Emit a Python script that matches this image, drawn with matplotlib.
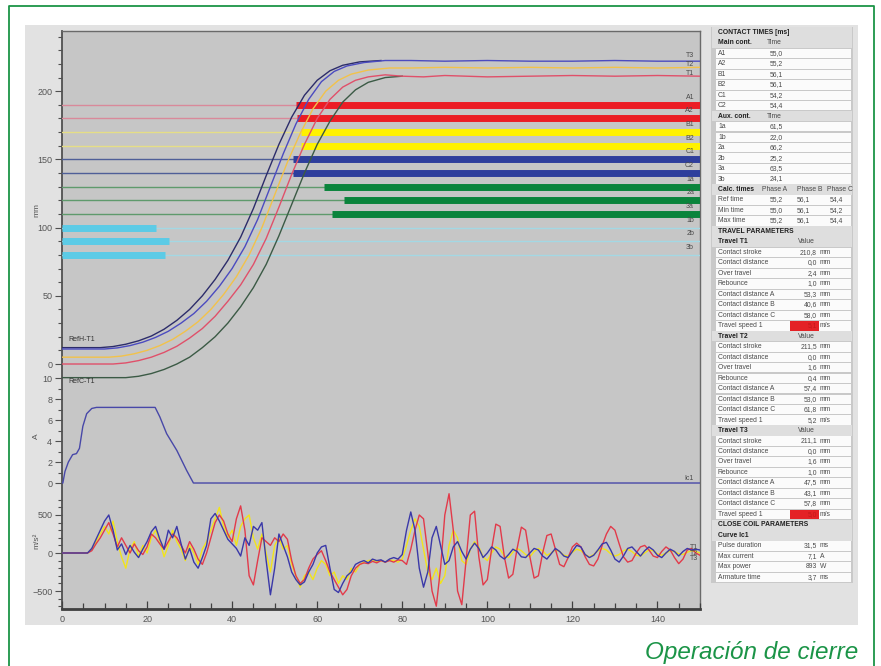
import matplotlib
matplotlib.use('Agg')
import matplotlib.pyplot as plt
from matplotlib.patches import Rectangle
from matplotlib.ticker import FixedLocator

plt.rcParams['font.family'] = ['Liberation Sans', 'DejaVu Sans']

W, H = 881, 666

# ---- contact position lines (mm) ----
contact_names = ['A1', 'A2', 'B1', 'B2', 'C1', 'C2', '1a', '2a', '3a', '1b', '2b', '3b']
contact_levels = [190, 180, 170, 160, 150, 140, 130, 120, 110, 100, 90, 80]
contact_times = [55.0, 55.2, 56.1, 56.1, 54.2, 54.4, 61.5, 66.2, 63.5, 22.0, 25.2, 24.1]
contact_opens = [False] * 9 + [True] * 3

# ---- travel curves (ms, mm) ----
t1_t = [0, 12, 15, 18, 21, 24, 27, 30, 33, 36, 39, 42, 45, 48, 51, 54, 57, 60, 63, 66, 69, 72, 76, 80, 85, 90, 95, 100, 110, 120, 130, 140, 150]
t1_mm = [0, 0, 0.8, 2.5, 5, 8.5, 13, 19, 26, 35, 46, 58, 73, 92, 115, 139, 161, 180, 194, 203, 208, 210.5, 212, 211, 210.5, 211.5, 211, 210.5, 211, 211.5, 211, 211.5, 211]
t2_t = [0, 11, 14, 17, 20, 23, 26, 29, 32, 35, 38, 41, 44, 47, 50, 53, 56, 59, 62, 65, 68, 72, 77, 82, 90, 100, 110, 120, 130, 140, 150]
t2_mm = [5, 5, 5.8, 7.5, 10, 13.5, 18, 24, 31, 40, 51, 64, 80, 100, 124, 148, 169, 187, 200, 208, 212.5, 215.5, 217, 217, 217.5, 217, 217.5, 217, 217.5, 217, 217.5]
t3_t = [0, 10, 13, 16, 19, 22, 25, 28, 31, 34, 37, 40, 43, 46, 49, 52, 55, 58, 61, 64, 67, 71, 76, 82, 90, 100, 110, 120, 130, 140, 150]
t3_mm = [11, 11, 11.8, 13.5, 16, 19.5, 24, 30, 37, 46, 57, 70, 86, 106, 130, 154, 176, 194, 207, 214.5, 218.5, 221, 222.5, 222.5, 222, 222.5, 222, 222, 222.5, 222, 222]
refh_t = [0, 9, 12, 15, 18, 21, 24, 27, 30, 33, 36, 39, 42, 45, 48, 51, 54, 57, 60, 63, 66, 70, 75]
refh_mm = [12, 12, 12.8, 14.5, 17, 20.5, 25.5, 32, 40, 50, 62, 76, 93, 114, 138, 161, 181, 197, 208, 215, 219, 221.5, 222.5]
refc_t = [0, 15, 18, 21, 24, 27, 30, 33, 36, 39, 42, 45, 48, 51, 54, 57, 60, 63, 66, 69, 72, 76, 80]
refc_mm = [-10, -10, -9, -7, -4, 0, 5, 12, 20, 30, 42, 56, 73, 94, 117, 140, 161, 178, 192, 201, 206.5, 210, 211]

# ---- coil current (ms, A) ----
cur_t = [0, 0.2, 0.7, 1.5, 2.5, 3.4, 4.1, 4.9, 5.8, 7.0, 8.1, 21.9, 23.0, 24.6, 27.0, 29.3, 30.9, 150]
cur_a = [0, 0.0, 1.1, 2.0, 2.7, 2.8, 3.3, 5.4, 6.6, 7.1, 7.2, 7.2, 6.3, 4.7, 3.1, 1.2, 0.0, 0.0]

# ---- acceleration (m/s2), one sample per ms ----
acc_t = list(range(151))
acc_blue = [0, 0, 0, 0, 0, 0, 0, 60, 180, 300,
            420, 500, 300, 40, 120, -20, 100, 10, -60, 50,
            150, 280, 350, 180, 50, 300, 200, 350, 120, -80,
            60, -120, -200, -60, 100, 450, 520, 420, 300, 180,
            120, 60, -40, 200, 100, 350, 300, 400, -100, -550,
            -200, 250, 100, -50, -250, -350, -420, -380, -250, -150,
            0, 80, 100, -200, -480, -520, -400, -300, -250, -150,
            -120, -100, -130, -80, -100, -90, -120, -80, -60, -80,
            -20, 300, 540, 300, -200, -450, -250, 200, 350, 100,
            -150, -100, 80, 150, 20, -80, 50, 130, 60, -60,
            0, 80, 40, -40, -80, -20, 50, 20, -50, -60,
            0, 60, 40, -40, -80, -10, 60, 20, -40, -60,
            20, 100, 80, -20, -60, -30, 40, 120, 140, 40,
            -80, -120, -40, 60, 80, 20, -40, 30, 80, 40,
            -30, -60, 0, 50, 20, -40, 20, 60, 40, 50,
            40]
acc_red = [0, 0, 0, 0, 0, 0, 0, 30, 120, 200,
           300, 400, 250, 80, 200, 100, 0, 120, 30, -20,
           80, 250, 200, 120, 50, 150, 250, 200, 100, 0,
           150, 50, -80, -150, 0, 200, 400, 500, 420, 250,
           150, 450, 620, 300, -300, -420, -100, 200, 150, 100,
           200, 150, 250, 180, -100, -300, -400, -350, -200, -80,
           -20, 30, -100, -250, -350, -450, -550, -480, -300, -200,
           -150, -130, -140, -110, -130, -100, -120, -100, -120, -90,
           -100, -150, 50, 300, 500, 450, 0, -500, -700, -200,
           500, 780, 300, -500, -680, -100, 500, 550, -50, -420,
           -350, 50, 380, 350, -50, -330, -280, 60, 340, 300,
           -50, -330, -300, 0, 230, 250, 50, -150, -180, -60,
           80, 130, 80, -50, -150, -170, -80, 100, 250, 350,
           300, 120, -50, -120, -100, 0, 80, 100, 40, -40,
           -60, 20, 80, 40, -60, -140, -80, 40, 60, 0,
           -30]
acc_yellow = [0, 0, 0, 0, 0, 0, 0, 50, 150, 250,
              350, 250, 420, 150, -50, -200, 50, 150, -50, 100,
              0, 200, 300, 150, -50, 100, 300, 150, 50, -100,
              100, 0, -150, 50, 150, 300, 450, 600, 350, 200,
              300, 100, 350, 450, 500, 200, 50, 250, 0, -250,
              100, 200, 50, 100, -150, -300, -450, -300, -250, -350,
              -200, -100, -150, -300, -250, -400, -300, -350, -200, -250,
              -150, -120, -100, -90, -110, -100, -120, -90, -100, -120,
              -80, 100, 300, 450, 350, 50, -250, -350, -200, -400,
              -300, 100, 300, 200, -100, -150, 50, 150, 80, -50,
              -100, 0, 80, 50, -40, -60, 10, 60, 30, -20,
              -50, 20, 60, 30, -30, 0, 40, 20, -30, -40,
              10, 50, 30, -20, -50, -20, 30, 60, 40, -10,
              -40, -20, 30, 50, 20, -30, -40, 0, 40, 30,
              -10, -30, 0, 30, 20, -10, -20, 10, 30, 20,
              0]

# ---- table values ----
main_names = ['A1', 'A2', 'B1', 'B2', 'C1', 'C2']
main_times = ['55,0', '55,2', '56,1', '56,1', '54,2', '54,4']
aux_names = ['1a', '1b', '2a', '2b', '3a', '3b']
aux_times = ['61,5', '22,0', '66,2', '25,2', '63,5', '24,1']
calc_names = ['Ref time', 'Min time', 'Max time']
calc_a = ['55,2', '55,0', '55,2']
calc_b = ['56,1', '56,1', '56,1']
calc_c = ['54,4', '54,2', '54,4']
travel_names = ['Contact stroke', 'Contact distance', 'Over travel', 'Rebounce',
                'Contact distance A', 'Contact distance B', 'Contact distance C', 'Travel speed 1']
travel_units = ['mm', 'mm', 'mm', 'mm', 'mm', 'mm', 'mm', 'm/s']
travel_t1 = ['210,8', '0,0', '2,4', '1,0', '53,3', '40,6', '58,0', '5,1']
travel_t2 = ['211,5', '0,0', '1,6', '0,4', '57,4', '53,0', '61,8', '5,2']
travel_t3 = ['211,1', '0,0', '1,6', '1,0', '47,5', '43,1', '57,8', '5,0']
travel_alarm = [True, False, True]
coil_names = ['Pulse duration', 'Max current', 'Max power', 'Armature time']
coil_values = ['31,5', '7,1', '893', '3,7']
coil_units = ['ms', 'A', 'W', 'ms']


def frac(x0, y0, x1, y1):
    return [x0 / W, 1 - y1 / H, (x1 - x0) / W, (y1 - y0) / H]


fig = plt.figure(figsize=(W / 100, H / 100), dpi=100)
fig.patch.set_facecolor('white')

# base layer in pixel coordinates
base = fig.add_axes([0, 0, 1, 1])
base.set_xlim(0, W)
base.set_ylim(H, 0)
base.axis('off')

green = '#1b9447'
base.plot([9, 9, 874, 874], [666, 6, 6, 666], color=green, lw=1.3)
base.add_patch(Rectangle((25, 25), 833, 600, color='#e2e2e2', lw=0))
base.add_patch(Rectangle((711, 27), 142, 556, color='#c9c9c9', lw=0))
base.text(858, 659, 'Operación de cierre', ha='right', va='baseline',
          fontsize=17.5, style='italic', color=green)

# table rows
rows = [('title', ['CONTACT TIMES [ms]']), ('head', ['Main cont.', 'Time'])]
rows += [('ct', [n, v]) for n, v in zip(main_names, main_times)]
rows += [('head', ['Aux. cont.', 'Time'])]
rows += [('ct', [n, v]) for n, v in zip(aux_names, aux_times)]
rows += [('calchead', ['Calc. times', 'Phase A', 'Phase B', 'Phase C'])]
rows += [('calc', [n, a, b, c]) for n, a, b, c in zip(calc_names, calc_a, calc_b, calc_c)]
rows += [('title', ['TRAVEL PARAMETERS'])]
for k, vals in enumerate([travel_t1, travel_t2, travel_t3]):
    rows += [('valhead', ['Travel T%d' % (k + 1), 'Value'])]
    for j, (n, v, u) in enumerate(zip(travel_names, vals, travel_units)):
        kind = 'alarm' if (j == 7 and travel_alarm[k]) else 'val'
        rows += [(kind, [n, v, u])]
rows += [('title', ['CLOSE COIL PARAMETERS']), ('head', ['Curve Ic1'])]
rows += [('val', [n, v, u]) for n, v, u in zip(coil_names, coil_values, coil_units)]

tf = 4.9
txt = '#4a4a4a'
for i, (kind, cells) in enumerate(rows):
    yc = 32.3 + 10.48 * i
    if kind in ('title', 'head', 'calchead', 'valhead'):
        base.add_patch(Rectangle((712, yc - 5.2), 140, 10.4, color='#dedede', lw=0))
    else:
        base.add_patch(Rectangle((716, yc - 4.6), 135, 9.4, color='#fbfbfb', lw=0))
    if kind == 'title':
        base.text(718, yc, cells[0], fontsize=tf, weight='bold', color='#202020', va='center')
        continue
    bold = kind in ('head', 'calchead', 'valhead')
    base.text(718, yc, cells[0], fontsize=tf, color='#202020' if bold else txt,
              weight='bold' if bold else 'normal', va='center')
    if kind == 'head' and len(cells) > 1:
        base.text(767, yc, cells[1], fontsize=tf, color=txt, va='center')
    elif kind == 'ct':
        base.text(783, yc, cells[1], fontsize=tf, color=txt, va='center', ha='right')
    elif kind == 'calchead':
        for x, s in zip([762, 797, 827], cells[1:]):
            base.text(x, yc, s, fontsize=tf, color=txt, va='center')
    elif kind == 'calc':
        for x, s in zip([783, 810, 843], cells[1:]):
            base.text(x, yc, s, fontsize=tf, color=txt, va='center', ha='right')
    elif kind == 'valhead':
        base.text(798, yc, cells[1], fontsize=tf, color=txt, va='center')
    elif kind in ('val', 'alarm'):
        vc = txt
        if kind == 'alarm':
            base.add_patch(Rectangle((790, yc - 4.6), 29, 9.4, color='#e42226', lw=0))
            vc = '#c21a1a'
        base.text(817, yc, cells[1], fontsize=tf, color=vc, va='center', ha='right')
        base.text(820, yc, cells[2], fontsize=tf, color=txt, va='center')

# ---- plot area ----
X0, X1, YT, YB = 62, 700, 31, 609
ax_bg = fig.add_axes(frac(X0, YT, X1, YB))
ax_bg.set_facecolor('#c6c6c6')
ax_bg.set_xticks([])
ax_bg.set_yticks([])
for s in ax_bg.spines.values():
    s.set_color('#6a6a6a')
    s.set_linewidth(1.0)
ax_bg.spines['left'].set_color('#505050')
ax_bg.spines['left'].set_linewidth(1.3)

ax_mm = fig.add_axes(frac(X0, YT, X1, 384))
ax_a = fig.add_axes(frac(X0, 378, X1, 495.4))
ax_acc = fig.add_axes(frac(X0, 485, X1, YB))

lab_col = '#555555'
for ax in (ax_mm, ax_a, ax_acc):
    ax.set_facecolor('none')
    ax.set_xlim(0, 150)
    for s in ax.spines.values():
        s.set_visible(False)
    ax.tick_params(axis='y', which='both', direction='out', colors='#505050',
                   labelcolor=lab_col, labelsize=6.5, pad=2)
    ax.tick_params(axis='y', which='major', length=5, width=0.8)
    ax.tick_params(axis='y', which='minor', length=3, width=0.8)
    ax.tick_params(axis='x', which='both', bottom=False, labelbottom=False)

ax_mm.set_ylim(-14.66, 244.13)
ax_mm.yaxis.set_major_locator(FixedLocator([0, 50, 100, 150, 200]))
ax_mm.yaxis.set_minor_locator(FixedLocator(list(range(0, 241, 10))))
ax_a.set_ylim(-1.18, 10)
ax_a.yaxis.set_major_locator(FixedLocator([0, 2, 4, 6, 8, 10]))
ax_a.yaxis.set_minor_locator(FixedLocator(list(range(0, 11))))
ax_acc.set_ylim(-736.8, 894.7)
ax_acc.yaxis.set_major_locator(FixedLocator([-500, 0, 500]))
ax_acc.yaxis.set_minor_locator(FixedLocator(list(range(-700, 701, 100))))

ax_acc.spines['bottom'].set_visible(True)
ax_acc.spines['bottom'].set_color('#404040')
ax_acc.spines['bottom'].set_linewidth(2)
ax_acc.xaxis.set_major_locator(FixedLocator(list(range(0, 141, 20))))
ax_acc.xaxis.set_minor_locator(FixedLocator(list(range(0, 151, 5))))
ax_acc.tick_params(axis='x', which='both', bottom=True, labelbottom=True, direction='in',
                   colors='#404040', labelcolor=lab_col, labelsize=6.5, pad=4)
ax_acc.tick_params(axis='x', which='major', length=6, width=0.9)
ax_acc.tick_params(axis='x', which='minor', length=4, width=0.9)

# contact lines
thin_cols = ['#d9899a', '#d9899a', '#e5de86', '#e5de86', '#4f5f98', '#4f5f98',
             '#5f9a6c', '#5f9a6c', '#5f9a6c', '#a3d8e4', '#a3d8e4', '#a3d8e4']
bar_cols = ['#ec1c24', '#ec1c24', '#fff200', '#fff200', '#2e3e9c', '#2e3e9c',
            '#0a843c', '#0a843c', '#0a843c', '#5ccbe6', '#5ccbe6', '#5ccbe6']
for name, lev, tc, op, c1, c2 in zip(contact_names, contact_levels, contact_times,
                                     contact_opens, thin_cols, bar_cols):
    ax_mm.plot([0, 150], [lev, lev], color=c1, lw=1.0)
    xs = [0, tc] if op else [tc, 150]
    ax_mm.plot(xs, [lev, lev], color=c2, lw=5.0, solid_capstyle='butt')
    ax_mm.text(148.6, lev + 5.5, name, fontsize=5, color='#4a4a4a', ha='right', va='center')

ax_mm.plot(refc_t, refc_mm, color='#3b5a45', lw=1.0)
ax_mm.plot(refh_t, refh_mm, color='#2c2c6a', lw=1.0)
ax_mm.plot(t1_t, t1_mm, color='#e0506a', lw=1.0)
ax_mm.plot(t2_t, t2_mm, color='#f2c24a', lw=1.0)
ax_mm.plot(t3_t, t3_mm, color='#4b4bc0', lw=1.0)
ax_mm.text(148.6, 226.5, 'T3', fontsize=5, color='#4a4a4a', ha='right', va='center')
ax_mm.text(148.6, 219.8, 'T2', fontsize=5, color='#4a4a4a', ha='right', va='center')
ax_mm.text(148.6, 213.2, 'T1', fontsize=5, color='#4a4a4a', ha='right', va='center')
ax_mm.text(1.5, 15.5, 'RefH-T1', fontsize=5, color='#333333', va='bottom')
ax_mm.text(1.5, -12.5, 'RefC-T1', fontsize=5, color='#333333', va='center')
ax_mm.text(-6, 113, 'mm', fontsize=6, color=lab_col, rotation=90, ha='center', va='center')

ax_a.plot(cur_t, cur_a, color='#4848a8', lw=1.0)
ax_a.text(148.6, 0.4, 'Ic1', fontsize=5, color='#4a4a4a', ha='right', va='center')
ax_a.text(-6, 4.5, 'A', fontsize=6, color=lab_col, rotation=90, ha='center', va='center')

ax_acc.plot(acc_t, acc_yellow, color='#f2e41a', lw=1.0)
ax_acc.plot(acc_t, acc_red, color='#e23a4a', lw=1.0)
ax_acc.plot(acc_t, acc_blue, color='#3a38a8', lw=1.0)
ax_acc.text(149.5, 70, 'T1', fontsize=5, color='#4a4a4a', ha='right', va='center')
ax_acc.text(149.5, 0, 'T2', fontsize=5, color='#4a4a4a', ha='right', va='center')
ax_acc.text(149.5, -70, 'T3', fontsize=5, color='#4a4a4a', ha='right', va='center')
ax_acc.text(-6, 160, 'm/s²', fontsize=6, color=lab_col, rotation=90, ha='center', va='center')

fig.savefig('out.png', dpi=100)
